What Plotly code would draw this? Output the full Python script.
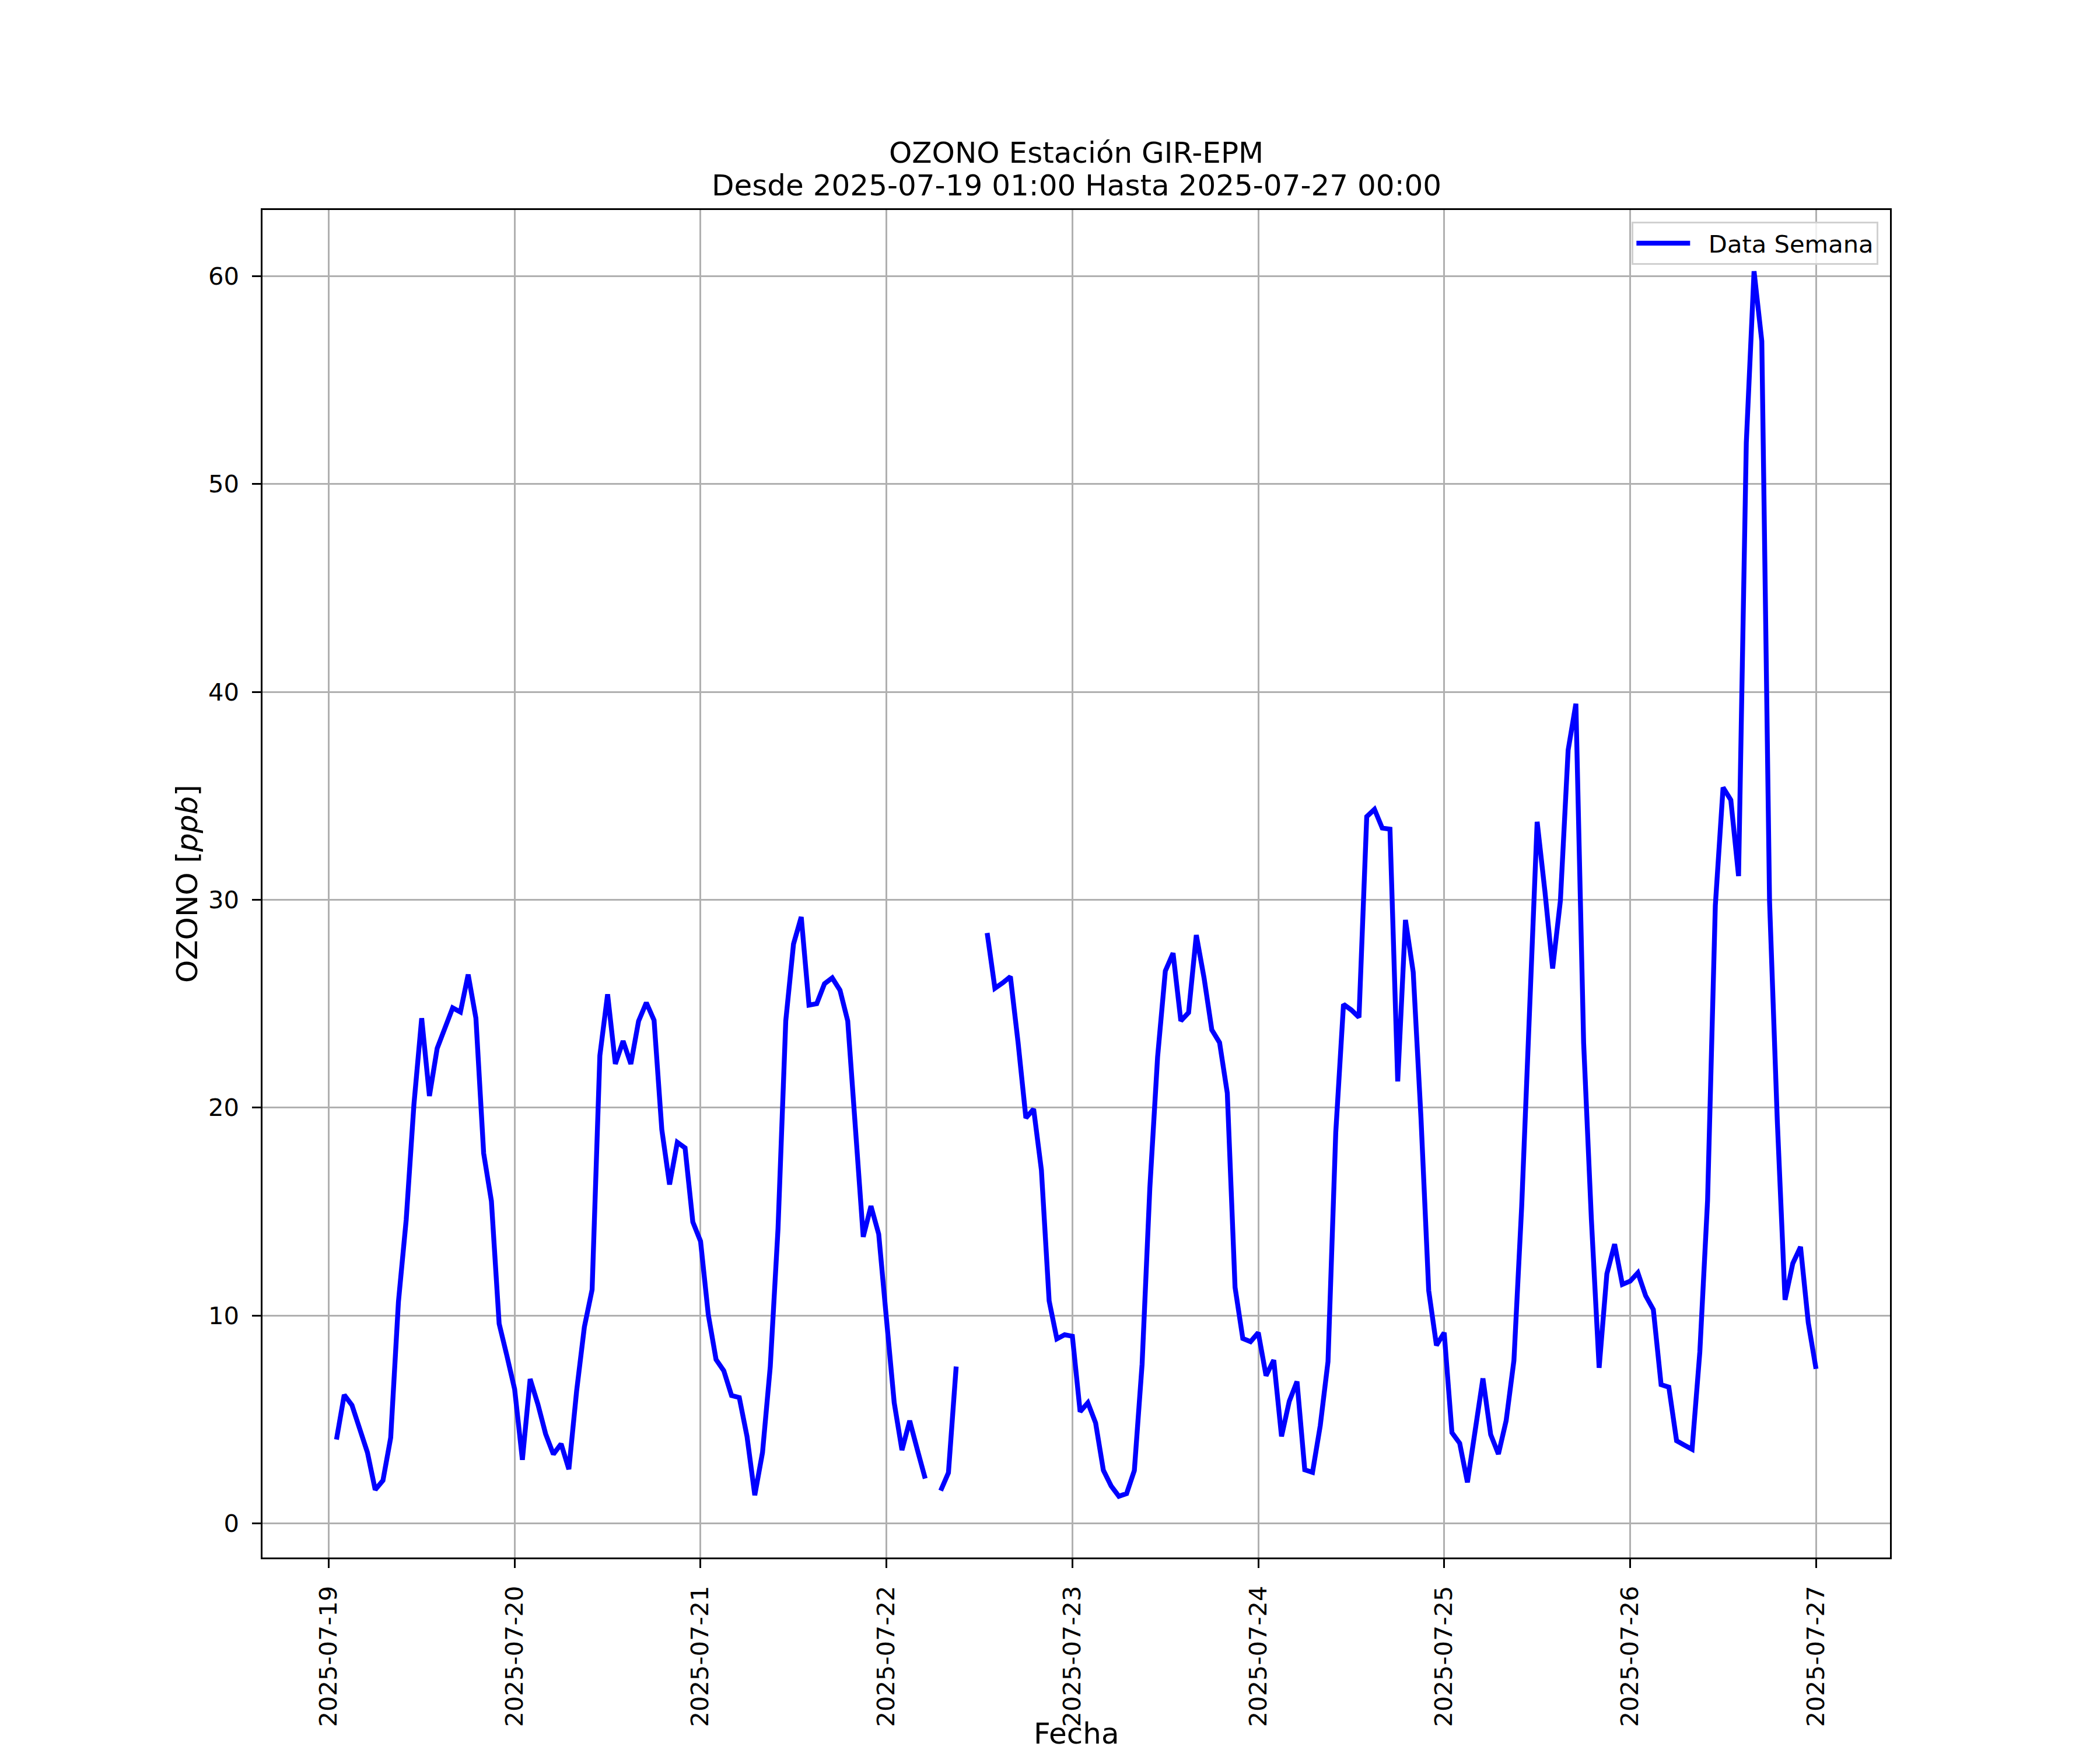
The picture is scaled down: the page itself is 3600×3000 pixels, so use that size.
import pandas as pd
import plotly.graph_objects as go

# ---------------- data (hourly, 01:00 of each day .. 00:00 of the next) -------------
ozono_0719 = [4.03, 6.18, 5.68, 4.5, 3.4, 1.61, 2.06, 4.12, 10.66, 14.6, 20.16, 24.3,
              20.56, 22.85, 23.8, 24.8, 24.6, 26.4, 24.3, 17.8, 15.5, 9.6, 8.06, 6.45]
ozono_0720 = [3.05, 6.94, 5.73, 4.3, 3.32, 3.82, 2.6, 6.36, 9.44, 11.24, 22.5, 25.45,
              22.1, 23.2, 22.1, 24.16, 25.05, 24.2, 18.94, 16.3, 18.33, 18.06, 14.5, 13.57]
ozono_0721 = [10.04, 7.88, 7.34, 6.15, 6.05, 4.17, 1.35, 3.41, 7.54, 14.17, 24.17, 27.87,
              29.17, 24.93, 25.0, 25.96, 26.24, 25.65, 24.17, 19.17, 13.78, 15.26, 13.91, 9.83]
ozono_0722 = [5.8, 3.52, 4.93, 3.52, 2.15, None, 1.57, 2.43, 7.54, None, None, None,
              28.4, 25.74, 26.0, 26.3, 23.1, 19.5, 19.93, 17.0, 10.7, 8.87, 9.07, 9.0]
ozono_0723 = [5.37, 5.8, 4.83, 2.55, 1.8, 1.3, 1.43, 2.54, 7.65, 16.13, 22.43, 26.57,
              27.43, 24.17, 24.57, 28.3, 26.24, 23.74, 23.13, 20.7, 11.35, 8.89, 8.74, 9.17]
ozono_0724 = [7.1, 7.85, 4.18, 5.87, 6.82, 2.57, 2.45, 4.7, 7.78, 18.8, 24.97, 24.7,
              24.34, 34.0, 34.35, 33.45, 33.4, 21.26, 29.03, 26.52, 19.52, 11.2, 8.56, 9.17]
ozono_0725 = [4.36, 3.85, 1.97, 4.6, 6.97, 4.27, 3.33, 4.94, 7.83, 15.22, 23.86, 33.75,
              30.41, 26.69, 29.96, 37.2, 39.43, 23.11, 14.62, 7.48, 12.0, 13.43, 11.49, 11.65]
ozono_0726 = [12.05, 10.95, 10.28, 6.67, 6.55, 3.97, 3.76, 3.56, 8.24, 15.53, 29.72, 35.4,
              34.8, 31.14, 52.0, 60.24, 56.88, 29.92, 19.38, 10.75, 12.5, 13.3, 9.65, 7.43]

fecha_inicio = "2025-07-19 01:00"
fecha_fin = "2025-07-27 00:00"
tick_dias = ["2025-07-19", "2025-07-20", "2025-07-21", "2025-07-22", "2025-07-23",
             "2025-07-24", "2025-07-25", "2025-07-26", "2025-07-27"]
y_ticks = [0, 10, 20, 30, 40, 50, 60]

ozono = (ozono_0719 + ozono_0720 + ozono_0721 + ozono_0722 +
         ozono_0723 + ozono_0724 + ozono_0725 + ozono_0726)
fechas = pd.date_range(fecha_inicio, fecha_fin, freq="h")

# ---------------- layout geometry (matplotlib-like) ----------------
# the page body adds an 8 px offset, so the figure is drawn 8 px smaller
OFF = 8
W, H = 3600 - OFF, 3000 - OFF
L, R, T, B = 450 - OFF, 3240 - OFF, 360 - OFF, 2670 - OFF
pw, ph = R - L, B - T
PT = 300 / 72.0
FONT = "DejaVu Sans"

# autoscale margins (5%)
vals = [v for v in ozono if v is not None]
ymin, ymax = min(vals), max(vals)
ym = 0.05 * (ymax - ymin)
t0, t1 = fechas[0], fechas[-1]
tm = 0.05 * (t1 - t0)

fig = go.Figure()
fig.add_trace(go.Scatter(
    x=fechas, y=ozono, mode="lines", name="\u00a0\u00a0Data Semana",
    line=dict(color="#0000ff", width=2 * PT),
    connectgaps=False,
))

axis_common = dict(
    showline=True, linecolor="black", linewidth=0.8 * PT, mirror=True,
    showgrid=True, gridcolor="#b0b0b0", gridwidth=0.8 * PT,
    ticks="outside", ticklen=3.5 * PT, tickwidth=0.8 * PT, tickcolor="black",
    tickfont=dict(family=FONT, size=10 * PT, color="black"),
    zeroline=False, automargin=False,
)

fig.update_layout(
    width=W, height=H,
    margin=dict(l=L, r=W - R, t=T, b=H - B, pad=0),
    paper_bgcolor="white", plot_bgcolor="white",
    font=dict(family=FONT, size=10 * PT, color="black"),
    xaxis=dict(
        **axis_common,
        type="date",
        range=[t0 - tm, t1 + tm],
        tickvals=tick_dias, ticktext=tick_dias,
        tickangle=-90,
        ticklabelstandoff=14,
    ),
    yaxis=dict(
        **axis_common,
        range=[ymin - ym, ymax + ym],
        tickvals=y_ticks, ticktext=[str(v) for v in y_ticks],
        ticklabelstandoff=14,
    ),
    showlegend=True,
    legend=dict(
        x=(3220 - OFF - L) / pw, y=(B - (380 - OFF)) / ph, xanchor="right", yanchor="top",
        bgcolor="rgba(255,255,255,0.8)", bordercolor="#d0d0d0", borderwidth=0.8 * PT,
        font=dict(family=FONT, size=10 * PT, color="black"),
        itemwidth=92,
    ),
)

fig.add_annotation(
    text="OZONO Estación GIR-EPM", xref="paper", yref="paper",
    x=0.5, y=(B - (262 - OFF)) / ph, xanchor="center", yanchor="middle",
    showarrow=False, font=dict(family=FONT, size=12 * PT, color="black"),
)
fig.add_annotation(
    text="Desde 2025-07-19 01:00 Hasta 2025-07-27 00:00", xref="paper", yref="paper",
    x=0.5, y=(B - (318 - OFF)) / ph, xanchor="center", yanchor="middle",
    showarrow=False, font=dict(family=FONT, size=12 * PT, color="black"),
)
fig.add_annotation(
    text="Fecha", xref="paper", yref="paper",
    x=0.5, y=(B - 2964) / ph, xanchor="center", yanchor="middle",
    showarrow=False, font=dict(family=FONT, size=12 * PT, color="black"),
)
fig.add_annotation(
    text="OZONO [<i>ppb</i>]", xref="paper", yref="paper",
    x=(313 - L) / pw, y=0.5, xanchor="center", yanchor="middle", textangle=-90,
    showarrow=False, font=dict(family=FONT, size=12 * PT, color="black"),
)

fig.write_html("out.html")
